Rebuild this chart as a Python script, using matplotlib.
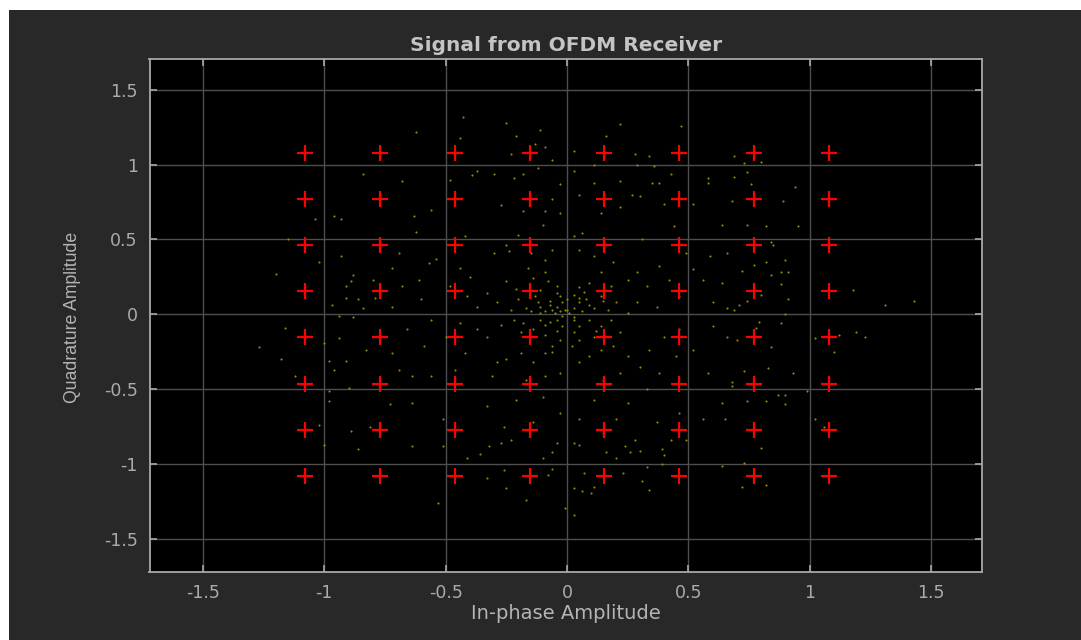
import numpy as np
import matplotlib
matplotlib.use("Agg")
import matplotlib.pyplot as plt
from matplotlib.patches import Rectangle

# 64-QAM reference constellation levels (per axis)
qam_levels = [-1.0801, -0.7715, -0.4629, -0.1543, 0.1543, 0.4629, 0.7715, 1.0801]

# Equalised receiver output samples (in-phase, quadrature)
received = [
    (-0.62, 0.55), (-0.42, 0.52), (-0.20, 0.53), (-0.10, 0.60), (-0.25, 0.46), (-0.30, 0.41),
    (-0.24, 0.42), (-0.16, 0.31), (-0.09, 0.28), (-0.08, 0.22), (-0.14, 0.24), (-0.21, 0.17),
    (-0.25, 0.22), (-0.33, 0.14), (-0.29, 0.08), (-0.44, 0.31), (-0.40, 0.25), (-0.54, 0.37),
    (-0.57, 0.34), (-0.61, 0.23), (-0.60, 0.10), (-0.69, 0.41), (-0.72, 0.31), (-0.80, 0.23),
    (-0.79, 0.11), (-0.84, 0.04), (-0.68, 0.19), (-0.72, 0.05), (-0.48, 0.19), (-0.41, 0.12),
    (-0.37, 0.05), (-0.20, 0.10), (-0.13, 0.12), (-0.11, 0.05), (-0.07, 0.09), (-0.04, 0.05),
    (-0.03, 0.12), (-0.02, 0.08), (-0.06, 0.03), (-0.09, 0.02), (-0.11, 0.01), (-0.17, 0.04),
    (-0.23, 0.03), (-0.03, 0.02), (-0.01, 0.03), (0.00, 0.10), (-0.04, 0.19), (-0.09, 0.36),
    (-0.15, 0.41), (-0.06, 0.43),
    (0.03, 0.52), (0.06, 0.54), (0.11, 0.39), (0.05, 0.43), (0.19, 0.35), (0.25, 0.23),
    (0.29, 0.28), (0.33, 0.19), (0.38, 0.32), (0.42, 0.23), (0.49, 0.41), (0.52, 0.30),
    (0.56, 0.23), (0.59, 0.39), (0.60, 0.08), (0.44, 0.59), (0.31, 0.50), (0.09, 0.21),
    (0.05, 0.18), (0.03, 0.13), (0.05, 0.08), (0.08, 0.10), (0.11, 0.04), (0.14, 0.12),
    (0.17, 0.03), (0.20, 0.08), (0.03, 0.04), (0.01, 0.01), (0.25, 0.01), (0.29, 0.08),
    (0.37, 0.05), (0.46, 0.12), (0.14, 0.28), (0.18, 0.19),
    (-0.11, -0.04), (-0.07, -0.05), (-0.04, -0.04), (-0.02, -0.08), (-0.04, -0.11), (-0.09, -0.14),
    (-0.14, -0.10), (-0.18, -0.06), (-0.22, -0.04), (-0.27, -0.07), (-0.33, -0.15), (-0.37, -0.10),
    (-0.44, -0.06), (-0.50, -0.15), (-0.56, -0.04), (-0.59, -0.21), (-0.66, -0.10), (-0.72, -0.26),
    (-0.77, -0.15), (-0.83, -0.24), (-0.19, -0.26), (-0.14, -0.32), (-0.09, -0.26), (-0.06, -0.21),
    (-0.25, -0.30), (-0.29, -0.32), (-0.42, -0.26), (-0.46, -0.37), (-0.56, -0.41), (-0.64, -0.41),
    (-0.69, -0.37), (-0.31, -0.41), (-0.17, -0.44), (-0.09, -0.41), (-0.03, -0.39), (-0.21, -0.57),
    (-0.10, -0.55), (-0.33, -0.61), (-0.64, -0.59), (-0.73, -0.60), (-0.26, -0.75), (-0.14, -0.72),
    (-0.03, -0.66), (-0.51, -0.70), (-0.81, -0.75),
    (0.03, -0.04), (0.05, -0.08), (0.09, -0.04), (0.14, -0.08), (0.11, -0.15), (0.05, -0.17),
    (0.03, -0.12), (0.18, -0.04), (0.22, -0.12), (0.19, -0.21), (0.14, -0.24), (0.09, -0.28),
    (0.05, -0.32), (0.25, -0.28), (0.30, -0.35), (0.34, -0.24), (0.40, -0.15), (0.46, -0.10),
    (0.52, -0.24), (0.58, -0.39), (0.45, -0.28), (0.38, -0.39), (0.22, -0.39), (0.15, -0.44),
    (0.11, -0.57), (0.25, -0.59), (0.33, -0.50), (0.46, -0.66), (0.37, -0.72), (0.20, -0.70),
    (0.15, -0.79), (0.56, -0.70), (0.05, -0.70), (0.60, -0.08),
    (-0.05, 0.01), (-0.02, -0.01), (0.00, 0.03), (-0.07, 0.06), (-0.12, 0.08), (0.03, -0.02),
    (0.06, 0.02), (-0.09, -0.07), (-0.04, 0.14), (0.05, 0.11), (-0.15, 0.02), (0.09, 0.06),
    (-0.03, -0.17), (0.02, -0.21), (-0.11, 0.16), (0.07, 0.15), (-0.19, -0.12), (0.12, -0.11),
    (-0.06, -0.25), (0.15, 0.09),
    (-0.62, 1.22), (-0.43, 1.32), (-0.44, 1.18), (-0.25, 1.28), (-0.21, 1.19), (-0.11, 1.23),
    (-0.09, 1.12), (-0.23, 1.07), (-0.06, 1.03), (-0.13, 1.14), (0.16, 1.19), (0.22, 1.27),
    (0.47, 1.26), (0.03, 1.09), (0.11, 1.00), (0.28, 1.07), (0.34, 1.06), (0.29, 1.00),
    (0.36, 0.99), (-0.84, 0.94), (-0.68, 0.89), (-0.48, 0.90), (-0.39, 0.93), (-0.37, 0.96),
    (-0.30, 0.94), (-0.22, 0.91), (-0.18, 0.94), (-0.12, 0.98), (0.03, 0.96), (-0.03, 0.87),
    (0.05, 0.80), (0.11, 0.88), (0.22, 0.89), (0.27, 0.80), (0.30, 0.79), (0.35, 0.88),
    (0.38, 0.88), (0.43, 0.94), (0.58, 0.91), (0.58, 0.88), (0.52, 0.74), (0.40, 0.74),
    (0.22, 0.72), (-0.03, 0.68), (-0.09, 0.69), (-0.18, 0.69), (-0.27, 0.73), (-0.63, 0.66),
    (-0.56, 0.70), (-0.06, 0.77), (0.14, 0.68),
    (0.69, 1.06), (0.73, 1.01), (0.80, 1.02), (0.74, 0.95), (0.69, 0.92), (0.76, 0.87),
    (0.94, 0.85), (0.68, 0.76), (0.89, 0.76),
    (0.64, 0.60), (0.74, 0.60), (0.82, 0.59), (0.95, 0.59), (0.84, 0.48), (0.85, 0.46),
    (0.66, 0.41), (0.77, 0.33), (0.82, 0.35), (0.90, 0.36), (0.72, 0.29), (0.84, 0.26),
    (0.88, 0.28), (0.91, 0.28), (0.64, 0.21), (0.88, 0.20), (0.80, 0.13), (0.74, 0.09),
    (0.91, 0.10), (0.66, 0.04), (0.69, 0.03), (0.71, 0.06), (1.18, 0.16), (1.43, 0.09),
    (1.31, 0.06), (0.90, 0.00), (0.79, -0.05), (0.88, -0.06), (0.78, -0.09), (0.66, -0.15),
    (0.70, -0.17), (0.84, -0.22), (1.02, -0.16), (1.12, -0.14), (1.19, -0.12), (1.23, -0.15),
    (1.10, -0.25), (0.83, -0.36), (0.93, -0.39), (0.73, -0.38), (0.68, -0.45), (0.68, -0.48),
    (0.99, -0.51), (0.90, -0.54), (0.87, -0.54), (0.74, -0.58), (0.82, -0.58), (0.90, -0.60),
    (0.64, -0.59), (0.65, -0.70), (1.02, -0.70), (1.06, -0.75),
    (-1.15, 0.50), (-1.02, 0.35), (-1.20, 0.27), (-0.93, 0.39), (-0.88, 0.26), (-0.89, 0.22),
    (-0.91, 0.19), (-0.91, 0.11), (-0.97, 0.06), (-0.86, 0.10), (-0.94, -0.01), (-0.88, -0.02),
    (-1.16, -0.09), (-1.27, -0.22), (-1.00, -0.19), (-0.94, -0.16), (-1.18, -0.30), (-0.98, -0.31),
    (-0.96, -0.37), (-1.12, -0.41), (-0.98, -0.51), (-0.90, -0.49), (-0.91, -0.31), (-0.98, -0.58),
    (-0.89, -0.78), (-1.02, -0.74),
    (-1.00, -0.87), (-0.86, -0.90),
    (-0.64, -0.88), (-0.51, -0.88), (-0.41, -0.96), (-0.36, -0.93), (-0.32, -0.88), (-0.27, -0.86),
    (-0.23, -0.84), (-0.10, -0.96), (-0.06, -0.92), (-0.04, -0.86), (-0.26, -1.04), (-0.33, -1.09),
    (-0.08, -1.07), (-0.06, -1.03), (-0.25, -1.16), (-0.17, -1.24), (-0.53, -1.26), (-0.01, -1.29),
    (0.03, -1.34), (0.03, -1.16), (0.06, -1.18), (0.10, -1.19), (0.11, -1.15), (0.07, -1.06),
    (0.23, -1.06), (0.31, -1.11), (0.34, -1.17), (0.33, -1.02), (0.39, -1.00), (0.03, -0.86),
    (0.05, -0.87), (0.16, -0.92), (0.20, -0.96), (0.24, -0.88), (0.26, -0.92), (0.30, -0.91),
    (0.39, -0.90), (0.43, -0.84), (0.40, -0.94), (0.49, -0.84), (0.28, -0.84),
    (0.80, -0.89), (0.64, -1.01), (0.73, -0.99), (0.82, -1.14), (0.72, -1.15),
    (-1.04, 0.64), (-0.96, 0.66), (-0.93, 0.64),
]

tick_values = [-1.5, -1, -0.5, 0, 0.5, 1, 1.5]
tick_labels = ["-1.5", "-1", "-0.5", "0", "0.5", "1", "1.5"]

plt.rcParams["axes.unicode_minus"] = False

W, H = 1081, 640
fig = plt.figure(figsize=(W / 100, H / 100), dpi=100, facecolor="white")
# dark figure panel behind the axes
panel = Rectangle((9 / W, 0), 1 - 9 / W, 1 - 10 / H, transform=fig.transFigure,
                  facecolor="#282828", edgecolor="none", zorder=-10)
fig.patches.append(panel)

ax = fig.add_axes([149.5 / W, 68 / H, 832.5 / W, 513 / H])
ax.set_facecolor("black")

rx_i = [p[0] for p in received]
rx_q = [p[1] for p in received]
ax.scatter(rx_i, rx_q, s=2.4, color="#8e8e00", linewidths=0, zorder=2)

ci, cq = np.meshgrid(qam_levels, qam_levels)
ax.plot(ci.ravel(), cq.ravel(), linestyle="none", marker="+", color="#ff0000",
        markersize=12, markeredgewidth=1.6, zorder=3)

ax.set_xlim(-1.72, 1.71)
ax.set_ylim(-1.72, 1.705)
ax.set_xticks(tick_values)
ax.set_xticklabels(tick_labels)
ax.set_yticks(tick_values)
ax.set_yticklabels(tick_labels)

ax.grid(True, color="#4e4e4e", linewidth=1.0)
ax.set_axisbelow(True)
for s in ax.spines.values():
    s.set_color("#a8a8a8")
    s.set_linewidth(1.3)
ax.tick_params(direction="in", length=5, width=1.2, color="#a8a8a8",
               top=True, right=True, labelcolor="#ababab", labelsize=12.5,
               pad=8.5)

ax.set_title("Signal from OFDM Receiver", color="#c4c4c4", fontsize=14.5,
             fontweight="bold", pad=5.5)
ax.set_xlabel("In-phase Amplitude", color="#b4b4b4", fontsize=14, labelpad=1.5)
ax.set_ylabel("Quadrature Amplitude", color="#b4b4b4", fontsize=12.7,
              family="Liberation Sans")
ax.yaxis.set_label_coords(-0.082, 0.497)

fig.savefig("out.png", dpi=100, facecolor=fig.get_facecolor())
